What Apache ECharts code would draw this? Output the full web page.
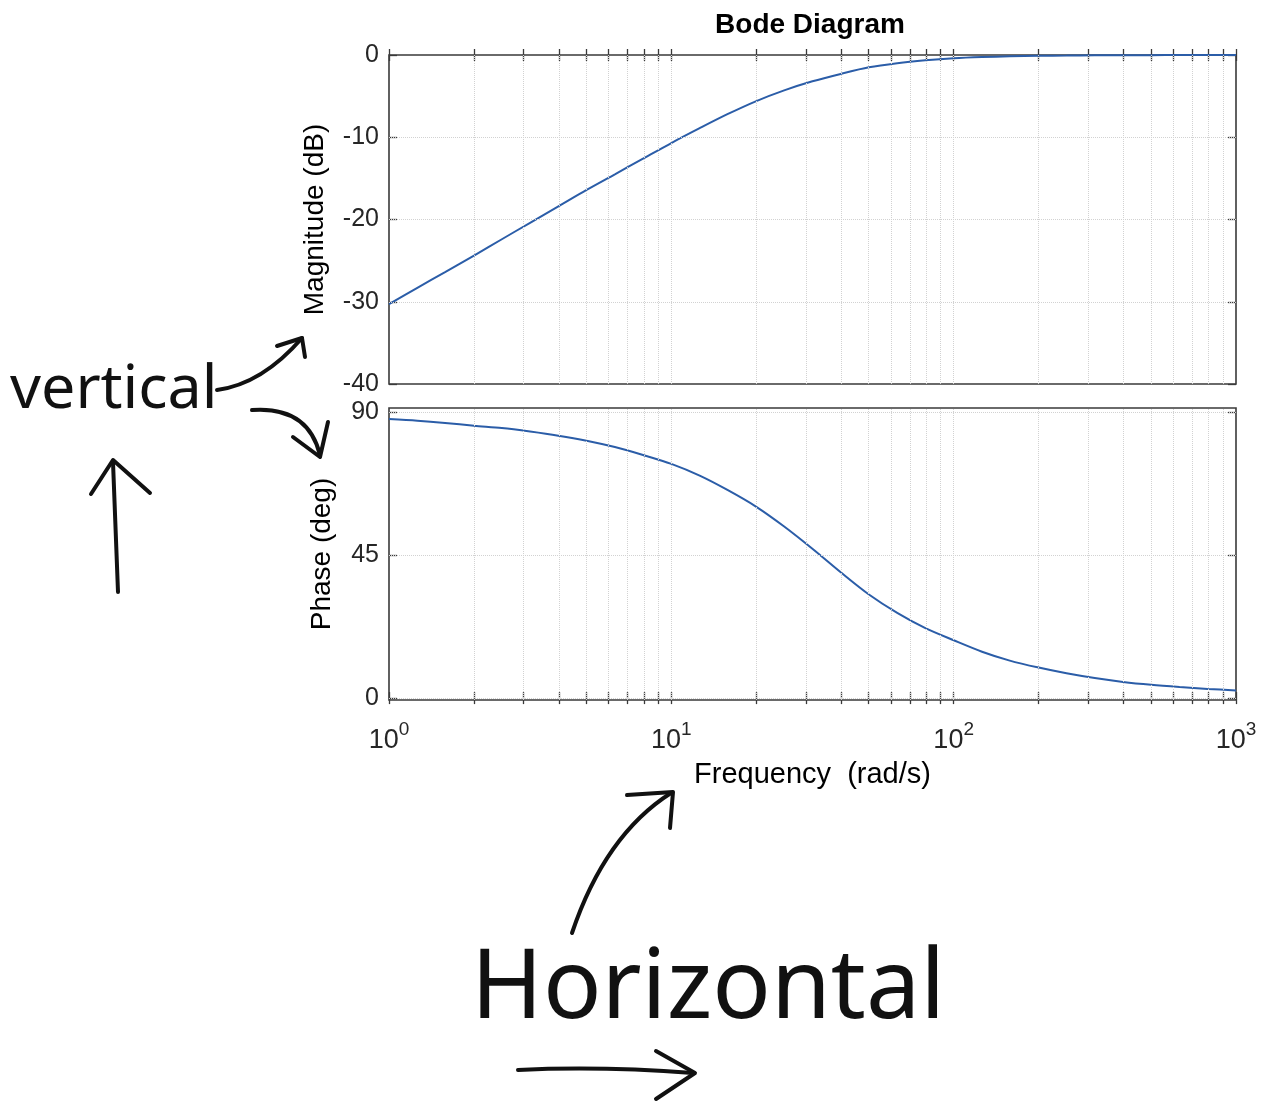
<!DOCTYPE html>
<html><head><meta charset="utf-8">
<script src="https://cdn.jsdelivr.net/npm/echarts@6/dist/echarts.min.js"></script>
<style>html,body{margin:0;padding:0;background:#fff}#c{width:1261px;height:1106px}</style>
</head><body><div id="c"></div>
<script>
// Frequencies (rad/s) sampled along the curves (10 per decade)
const freq = [1, 1.26, 1.58, 2, 2.51, 3.16, 3.98, 5.01, 6.31, 7.94,
              10, 12.6, 15.8, 20, 25.1, 31.6, 39.8, 50.1, 63.1, 79.4,
              100, 126, 158, 200, 251, 316, 398, 501, 631, 794, 1000];
// Magnitude (dB)
const magnitudeDb = [-30.3, -28.3, -26.4, -24.4, -22.4, -20.4, -18.4, -16.4, -14.5, -12.6,
                     -10.7, -8.9, -7.2, -5.6, -4.3, -3.2, -2.3, -1.5, -1.0, -0.65,
                     -0.4, -0.25, -0.16, -0.1, -0.07, -0.04, -0.03, -0.02, -0.01, -0.01, 0];
// Phase (deg)
const phaseDeg = [87.8, 87.3, 86.6, 85.7, 85.0, 83.9, 82.6, 81.0, 79.0, 76.5,
                  73.7, 70.0, 65.5, 60.2, 54.0, 47.0, 39.6, 32.6, 26.8, 22.0,
                  18.2, 14.6, 11.8, 9.6, 7.8, 6.3, 5.1, 4.2, 3.5, 2.9, 2.4];

// Tick labels / tick positions
const decadeTicks = [1, 10, 100, 1000];
const allXTicks = [1,2,3,4,5,6,7,8,9,10,20,30,40,50,60,70,80,90,100,200,300,400,500,600,700,800,900,1000];
const xGridLines = [2,3,4,5,6,7,8,9,10,20,30,40,50,60,70,80,90,100,200,300,400,500,600,700,800,900];
const magTicks = [0, -10, -20, -30, -40];
const magGridLines = [-10, -20, -30];
const phaseTicks = [0, 45, 90];
const phaseGridLines = [0, 45, 90];

const FONT = 'Liberation Sans';
const TXT = '#262626';
const FRAME = '#3a3a3a';
const LINE = '#2b5da8';

const gridDotted = {type: 'dotted', color: '#d2d2d2', width: 1};

function baseX(gridIndex, position, withLabels) {
  return {
    type: 'log', logBase: 10, min: 1, max: 1000, gridIndex, position,
    axisLine: {show: false},
    splitLine: {show: false},
    axisTick: {show: true, inside: true, length: 6, customValues: allXTicks, lineStyle: {color: FRAME, width: 1.3}},
    axisLabel: withLabels ? {
      show: true, customValues: decadeTicks, margin: 20,
      formatter: v => '{b|10}{s|' + Math.round(Math.log10(v)) + '}',
      rich: {
        b: {fontSize: 27, fontFamily: FONT, color: TXT, lineHeight: 34, verticalAlign: 'bottom'},
        s: {fontSize: 19, fontFamily: FONT, color: TXT, lineHeight: 20, verticalAlign: 'top'}
      }
    } : {show: false},
    name: withLabels ? 'Frequency  (rad/s)' : '',
    nameLocation: 'middle', nameGap: 60,
    nameTextStyle: {fontSize: 29, fontFamily: FONT, color: '#000'}
  };
}
function baseY(gridIndex, position, opts) {
  return Object.assign({
    type: 'value', gridIndex, position,
    axisLine: {show: false},
    splitLine: {show: false},
    axisTick: {show: true, inside: true, length: 8, lineStyle: {color: FRAME, width: 1.3}},
    axisLabel: {show: position === 'left', fontSize: 25, fontFamily: FONT, color: TXT, margin: 10},
    nameLocation: 'middle',
    nameTextStyle: {fontSize: 28, fontFamily: FONT, color: '#000'}
  }, opts);
}

const chart = echarts.init(document.getElementById('c'), null, {renderer: 'canvas'});

const magData = freq.map((f, i) => [f, magnitudeDb[i]]);
const phaseData = freq.map((f, i) => [f, phaseDeg[i]]);

function markLines(yVals) {
  return {
    silent: true, symbol: ['none', 'none'], animation: false,
    label: {show: false}, lineStyle: gridDotted,
    emphasis: {disabled: true},
    data: xGridLines.map(v => ({xAxis: v})).concat(yVals.map(v => ({yAxis: v})))
  };
}

const phaseMin = -0.6, phaseMax = 91.3;

chart.setOption({
  animation: false,
  backgroundColor: '#fff',
  grid: [
    {left: 389, right: 25, top: 55, height: 329, show: true, borderColor: FRAME, borderWidth: 1.6, backgroundColor: 'transparent'},
    {left: 389, right: 25, top: 408, height: 292, show: true, borderColor: FRAME, borderWidth: 1.6, backgroundColor: 'transparent'}
  ],
  xAxis: [
    baseX(0, 'bottom', false),
    baseX(0, 'top', false),
    baseX(1, 'bottom', true),
    baseX(1, 'top', false)
  ],
  yAxis: [
    baseY(0, 'left', {min: -40, max: 0, interval: 10, name: 'Magnitude (dB)', nameGap: 60}),
    baseY(0, 'right', {min: -40, max: 0, interval: 10}),
    baseY(1, 'left', {min: phaseMin, max: phaseMax, name: 'Phase (deg)', nameGap: 53,
      axisTick: {show: true, inside: true, length: 8, customValues: phaseTicks, lineStyle: {color: FRAME, width: 1.3}},
      axisLabel: {show: true, customValues: phaseTicks, fontSize: 25, fontFamily: FONT, color: TXT, margin: 10}}),
    baseY(1, 'right', {min: phaseMin, max: phaseMax,
      axisTick: {show: true, inside: true, length: 8, customValues: phaseTicks, lineStyle: {color: FRAME, width: 1.3}}})
  ],
  series: [
    {type: 'line', xAxisIndex: 0, yAxisIndex: 0, data: magData, smooth: 0.3, showSymbol: false,
      lineStyle: {color: LINE, width: 2}, markLine: markLines(magGridLines), z: 3},
    {type: 'line', xAxisIndex: 2, yAxisIndex: 2, data: phaseData, smooth: 0.3, showSymbol: false,
      lineStyle: {color: LINE, width: 2}, markLine: markLines(phaseGridLines), z: 3}
  ],
  graphic: [
    {type: 'text', x: 810, y: 25, style: {text: 'Bode Diagram', font: 'bold 28px "Liberation Sans"', fill: '#000', textAlign: 'center', textVerticalAlign: 'middle'}},
    // handwritten annotations
    {type: 'text', x: 10, y: 360, style: {text: 'vertical', font: '61px "Noto Sans"', fill: '#111', textAlign: 'left', textVerticalAlign: 'top'}},
    {type: 'text', x: 471, y: 942, style: {text: 'Horizontal', font: '97px "Noto Sans"', fill: '#111', textAlign: 'left', textVerticalAlign: 'top'}},
    {type: 'bezierCurve', shape: {x1: 217, y1: 390, x2: 302, y2: 338, cpx1: 262, cpy1: 384}, style: {stroke: '#111', lineWidth: 4, fill: null, lineCap: 'round'}},
    {type: 'polyline', shape: {points: [[277, 346], [302, 338], [305, 357]]}, style: {stroke: '#111', lineWidth: 4, fill: null, lineCap: 'round', lineJoin: 'round'}},
    {type: 'bezierCurve', shape: {x1: 252, y1: 410, x2: 320, y2: 455, cpx1: 308, cpy1: 406}, style: {stroke: '#111', lineWidth: 4, fill: null, lineCap: 'round'}},
    {type: 'polyline', shape: {points: [[293, 437], [320, 457], [328, 422]]}, style: {stroke: '#111', lineWidth: 4, fill: null, lineCap: 'round', lineJoin: 'round'}},
    {type: 'polyline', shape: {points: [[118, 592], [113, 462]]}, style: {stroke: '#111', lineWidth: 4, fill: null, lineCap: 'round'}},
    {type: 'polyline', shape: {points: [[91, 494], [113, 460], [150, 493]]}, style: {stroke: '#111', lineWidth: 4, fill: null, lineCap: 'round', lineJoin: 'round'}},
    {type: 'bezierCurve', shape: {x1: 572, y1: 933, x2: 671, y2: 793, cpx1: 605, cpy1: 835}, style: {stroke: '#111', lineWidth: 4, fill: null, lineCap: 'round'}},
    {type: 'polyline', shape: {points: [[627, 795], [673, 792], [670, 828]]}, style: {stroke: '#111', lineWidth: 4, fill: null, lineCap: 'round', lineJoin: 'round'}},
    {type: 'bezierCurve', shape: {x1: 518, y1: 1070, x2: 693, y2: 1073, cpx1: 600, cpy1: 1066}, style: {stroke: '#111', lineWidth: 4, fill: null, lineCap: 'round'}},
    {type: 'polyline', shape: {points: [[656, 1051], [695, 1073], [656, 1099]]}, style: {stroke: '#111', lineWidth: 4, fill: null, lineCap: 'round', lineJoin: 'round'}}
  ]
});
</script>
</body></html>
